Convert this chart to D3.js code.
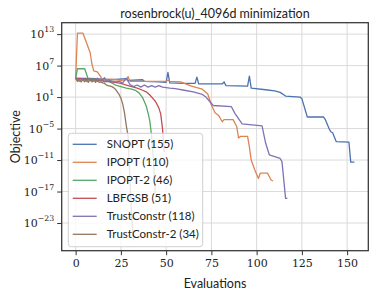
<!DOCTYPE html>
<html><head><meta charset="utf-8">
<script src="https://cdn.jsdelivr.net/npm/d3@7"></script>
<style>body{margin:0;background:#fff}svg{display:block}</style>
</head><body>
<script>
// ---- data (x = evaluation index, y = log10 of objective) ----
const seriesNames = ["SNOPT (155)","IPOPT (110)","IPOPT-2 (46)","LBFGSB (51)","TrustConstr (118)","TrustConstr-2 (34)"];
const seriesColors = ["#4c72b0","#dd8452","#55a868","#c44e52","#8172b3","#937860"];

const snoptX = [0,10,20,28,29,37,38,46,50,51,52,60,66,67,68,81,82,83,95,96,97,105,110,113,116,124,125,128,137,138,140,141,142,144,151,152,154];
const snoptY = [4.6,4.5,4.3,4.5,4.2,4.3,4.0,3.9,3.8,5.7,3.7,3.6,3.6,4.8,3.5,3.5,3.9,3.2,3.1,5.0,2.7,2.4,2.2,1.9,1.2,1.0,0.7,-2.8,-2.8,-3.3,-5.0,-5.6,-5.8,-7.5,-7.6,-11.4,-11.4];

const ipoptX = [0,1,4,8,9,10,12,14,15,20,25,28,29,30,40,50,51,52,58,64,70,73,75,77,79,81,82,83,87,89,90,91,95,96,97,99,101,102,106,108,109];
const ipoptY = [4.6,13.2,13.2,9.5,7.3,6.0,5.8,4.8,4.3,4.4,4.2,4.3,4.9,4.0,4.0,4.0,4.2,4.0,3.9,3.1,2.5,1.6,-0.5,-2.0,-2.5,-3.7,-3.3,-3.3,-3.3,-4.6,-6.8,-6.5,-6.5,-8.5,-11.0,-12.9,-14.5,-13.5,-13.5,-14.8,-15.0];

const ipopt2X = [0,1,5,7,8,10,12,14,16,18,20,22,25,28,31,33,35,37,39,40,41,42,43,44];
const ipopt2Y = [4.5,6.4,6.4,4.4,4.1,4.5,4.0,4.4,3.9,4.0,3.7,3.3,3.0,2.7,2.5,2.3,1.8,0.9,-0.7,-2.0,-3.6,-6.5,-11.0,-17.3];

const lbfgsbX = [0,5,10,15,20,25,28,31,34,37,39,41,43,44,45,46,47,48,49];
const lbfgsbY = [4.5,4.4,4.3,4.1,3.9,3.6,3.3,3.0,2.7,2.3,2.0,1.4,0.6,0.2,-0.4,-1.1,-2.2,-5.0,-9.5];

const trustX = [0,2,4,6,8,10,12,14,16,17,18,20,22,24,26,28,30,32,34,36,38,40,42,44,46,48,50,52,55,60,65,70,72,74,76,86,88,92,103,105,107,113,114,116,117];
const trustY = [4.6,4.0,4.5,4.0,4.6,4.0,4.6,4.1,4.7,4.0,4.3,4.0,3.9,4.0,3.7,4.6,3.4,3.0,3.3,2.9,3.3,2.9,3.2,2.9,3.2,2.9,2.8,2.7,2.6,2.3,2.0,1.5,1.0,0.2,-0.6,-0.8,-2.1,-4.1,-4.5,-7.8,-10.0,-10.7,-11.3,-18.3,-18.3];

const trust2X = [0,1,2,3,4,5,6,7,8,9,10,11,12,13,14,15,16,17,18,19,20,21,22,23,24,25,26,27,28,29,30,31,32];
const trust2Y = [4.5,4.0,4.4,3.9,4.3,3.9,4.4,3.8,4.5,3.9,4.6,3.8,4.3,3.8,3.9,3.7,3.6,3.3,3.2,3.1,3.0,2.8,2.5,2.0,1.5,0.8,-0.3,-2.0,-4.5,-6.5,-14.8,-22.0,-26.3];

const xTicks = [0,25,50,75,100,125,150];
const yTickExps = [13,7,1,-5,-11,-17,-23];

const allX = [snoptX,ipoptX,ipopt2X,lbfgsbX,trustX,trust2X];
const allY = [snoptY,ipoptY,ipopt2Y,lbfgsbY,trustY,trust2Y];

// ---- layout ----
const W = 374, H = 295;
const m = {left: 61.7, top: 22.7, right: 5.7, bottom: 44.3};
const pw = W - m.left - m.right, ph = H - m.top - m.bottom;

const xmax = d3.max(allX.flat()), xmin = 0;
const xpad = (xmax - xmin) * 0.05;
const x = d3.scaleLinear().domain([xmin - xpad, xmax + xpad]).range([0, pw]);

const ymaxE = d3.max(allY.flat()), yminE = d3.min(allY.flat());
const ypad = (ymaxE - yminE) * 0.05;
const y = d3.scaleLog().domain([Math.pow(10, yminE - ypad), Math.pow(10, ymaxE + ypad)]).range([ph, 0]);

const svg = d3.select("body").append("svg").attr("width", W).attr("height", H);
const g = svg.append("g").attr("transform", `translate(${m.left},${m.top})`);

g.append("defs").append("clipPath").attr("id","clip").append("rect").attr("width", pw).attr("height", ph);

// grid
g.append("g").selectAll("line").data(xTicks).join("line")
  .attr("x1", d => x(d)).attr("x2", d => x(d)).attr("y1", 0).attr("y2", ph)
  .attr("stroke", "#dadada").attr("stroke-width", 1);
g.append("g").selectAll("line").data(yTickExps).join("line")
  .attr("x1", 0).attr("x2", pw).attr("y1", d => y(Math.pow(10,d))).attr("y2", d => y(Math.pow(10,d)))
  .attr("stroke", "#dadada").attr("stroke-width", 1);

// lines
const line = d3.line().x(d => x(d[0])).y(d => y(Math.pow(10, d[1])));
const lines = g.append("g").attr("clip-path", "url(#clip)");
seriesNames.forEach((name, i) => {
  const pts = allX[i].map((v, j) => [v, allY[i][j]]);
  lines.append("path").datum(pts).attr("d", line)
    .attr("fill", "none").attr("stroke", seriesColors[i]).attr("stroke-width", 1.3)
    .attr("stroke-linejoin", "round").attr("stroke-linecap", "butt");
});

// axes
const serif = "'DejaVu Serif', 'Liberation Serif', serif";
const sans = "Lato, 'DejaVu Sans', sans-serif";

const xAxis = g.append("g").attr("transform", `translate(0,${ph})`)
  .call(d3.axisBottom(x).tickValues(xTicks).tickSize(4.5).tickPadding(4).tickFormat(d3.format("d")));
xAxis.select(".domain").remove();
xAxis.selectAll("line").attr("stroke", "#333").attr("stroke-width", 1);
xAxis.selectAll("text").attr("font-family", serif).attr("font-size", 11).attr("fill", "#222");

const yAxis = g.append("g")
  .call(d3.axisLeft(y).tickValues(yTickExps.map(e => Math.pow(10, e))).tickSize(4.5).tickPadding(3).tickFormat(() => ""));
yAxis.select(".domain").remove();
yAxis.selectAll("line").attr("stroke", "#333").attr("stroke-width", 1);
yAxis.selectAll(".tick text").each(function(d, i) {
  const t = d3.select(this).attr("font-family", serif).attr("fill", "#222").attr("dy", "0.35em");
  const e = Math.round(Math.log10(d));
  t.append("tspan").attr("font-size", 11).text("10");
  t.append("tspan").attr("font-size", 7.8).attr("dy", "-0.75em").text(e < 0 ? "\u2212" + (-e) : String(e));
});

// frame
g.append("rect").attr("width", pw).attr("height", ph).attr("fill", "none")
  .attr("stroke", "#333").attr("stroke-width", 1.25);

// legend
const lg = g.append("g").attr("transform", `translate(${68.3 - m.left},${133.3 - m.top})`);
lg.append("rect").attr("width", 134.4).attr("height", 113.4).attr("rx", 3)
  .attr("fill", "#fff").attr("fill-opacity", 0.8).attr("stroke", "#d0d0d0").attr("stroke-width", 1);
seriesNames.forEach((name, i) => {
  const yy = 11 + i * 18;
  lg.append("line").attr("x1", 4.4).attr("x2", 28.4).attr("y1", yy).attr("y2", yy)
    .attr("stroke", seriesColors[i]).attr("stroke-width", 1.3);
  lg.append("text").attr("x", 38.4).attr("y", yy).attr("dy", "0.35em")
    .attr("font-family", sans).attr("font-size", 11.5).attr("fill", "#222").text(name);
});

// titles
svg.append("text").attr("x", m.left + pw / 2).attr("y", 18)
  .attr("text-anchor", "middle").attr("font-family", sans).attr("font-size", 12.5).attr("fill", "#222")
  .text("rosenbrock(u)_4096d minimization");
svg.append("text").attr("x", m.left + pw / 2).attr("y", 288)
  .attr("text-anchor", "middle").attr("font-family", sans).attr("font-size", 12.5).attr("fill", "#222")
  .text("Evaluations");
svg.append("text").attr("transform", `translate(20,${m.top + ph / 2}) rotate(-90)`)
  .attr("text-anchor", "middle").attr("font-family", sans).attr("font-size", 12.5).attr("fill", "#222")
  .text("Objective");
</script>
</body></html>
